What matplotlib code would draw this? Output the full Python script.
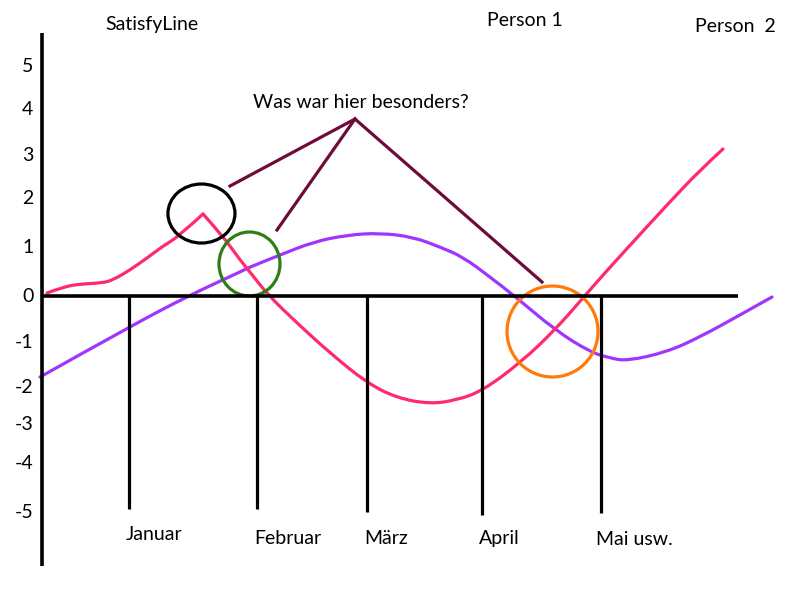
import matplotlib
matplotlib.use("Agg")
import matplotlib.pyplot as plt
from matplotlib.patches import Ellipse, PathPatch
from matplotlib.path import Path

# ---- data (x in month units, y in satisfaction units) ----
months = ["Januar", "Februar", "März", "April", "Mai usw."]
month_x = [1.0, 2.085, 3.017, 3.992, 5.0]
month_line_bottom = [-4.63, -4.63, -4.70, -4.76, -4.72]
month_label_x = [1.208, 2.347, 3.182, 4.140, 5.284]
month_label_y = [-5.174, -5.261, -5.261, -5.261, -5.304]

ytick_labels = ["5", "4", "3", "2", "1", "0", "-1", "-2", "-3", "-4", "-5"]
ytick_pos = [4.98, 4.06, 3.06, 2.11, 1.06, 0.0, -1.02, -1.98, -2.80, -3.65, -4.70]

person1_x = [0.305, 0.441, 0.585, 0.771, 0.864, 1.008, 1.153, 1.288, 1.415, 1.627,
             1.788, 1.941, 2.025, 2.178, 2.424, 2.703, 3.017, 3.271, 3.551, 3.780,
             3.992, 4.314, 4.610, 4.847, 5.017, 5.271, 5.559, 5.839, 6.034]
person1_y = [0.065, 0.196, 0.261, 0.283, 0.348, 0.565, 0.826, 1.087, 1.283, 1.783,
             1.326, 0.783, 0.522, 0.022, -0.587, -1.239, -1.891, -2.217, -2.348, -2.261,
             -2.065, -1.457, -0.739, -0.043, 0.457, 1.174, 1.978, 2.739, 3.196]
person1_corner = 9  # index of the sharp peak

person2_x = [0.246, 1.0, 1.517, 1.941, 2.025, 2.280, 2.559, 2.847, 3.127, 3.407,
             3.636, 3.831, 4.059, 4.288, 4.610, 4.907, 5.076, 5.220, 5.559, 5.839,
             6.178, 6.449]
person2_y = [-1.761, -0.674, 0.022, 0.522, 0.630, 0.891, 1.174, 1.326, 1.370, 1.283,
             1.065, 0.848, 0.413, -0.043, -0.739, -1.217, -1.348, -1.413, -1.217, -0.891,
             -0.413, -0.022]

# annotation pointer lines (apex + three ends)
apex = (2.915, 3.848)
pointer_ends = [(1.856, 2.391), (2.254, 1.435), (4.50, 0.304)]

# highlighted circles: (center x, center y, width, height, colour)
circles = [(1.614, 1.793, 0.568, 1.283, "#000000"),
           (2.021, 0.696, 0.517, 1.391, "#2f7d18"),
           (4.589, -0.772, 0.771, 1.978, "#ff7a0a")]


def smooth_path(xs, ys):
    """Quadratic B-spline path: data points act as control points."""
    pts = list(zip(xs, ys))
    verts = [pts[0]]
    codes = [Path.MOVETO]
    if len(pts) == 2:
        verts.append(pts[1]); codes.append(Path.LINETO)
        return Path(verts, codes)
    for i in range(1, len(pts) - 1):
        ctrl = pts[i]
        if i == len(pts) - 2:
            end = pts[i + 1]
        else:
            end = ((pts[i][0] + pts[i + 1][0]) / 2, (pts[i][1] + pts[i + 1][1]) / 2)
        verts += [ctrl, end]
        codes += [Path.CURVE3, Path.CURVE3]
    return Path(verts, codes)


def draw_curve(ax, xs, ys, color):
    ax.add_patch(PathPatch(smooth_path(xs, ys), fill=False, edgecolor=color, lw=2.3,
                           capstyle="round", joinstyle="round"))


# ---- figure ----
plt.rcParams["font.family"] = ["Lato", "DejaVu Sans"]
fig = plt.figure(figsize=(8, 6), dpi=100)
ax = fig.add_axes([0, 0, 1, 1])
ax.set_xlim(-0.0932, 6.6864)
ax.set_ylim(-6.6087, 6.4348)
ax.axis("off")

lw_axis = 2.6
# axes
ax.plot([0.263, 0.263], [5.717, -5.870], color="black", lw=lw_axis, solid_capstyle="butt")
ax.plot([0.263, 6.161], [0, 0], color="black", lw=lw_axis, solid_capstyle="butt")

# month lines and labels
for mx, mb, lab, lx, ly in zip(month_x, month_line_bottom, months, month_label_x, month_label_y):
    ax.plot([mx, mx], [0, mb], color="black", lw=2.3, solid_capstyle="butt")
    ax.text(lx, ly, lab, ha="center", va="center", fontsize=14)

# y labels
for lab, yp in zip(ytick_labels, ytick_pos):
    ax.text(0.19, yp, lab, ha="right", va="center", fontsize=14)

# curves
draw_curve(ax, person2_x, person2_y, "#a035ff")
k = person1_corner
draw_curve(ax, person1_x[:k + 1], person1_y[:k + 1], "#ff2a6d")
draw_curve(ax, person1_x[k:], person1_y[k:], "#ff2a6d")

# pointer lines
for ex, ey in pointer_ends:
    ax.plot([ex, apex[0]], [ey, apex[1]], color="#6e0b3a", lw=2.3)

# circles
for cx, cy, w, h, c in circles:
    ax.add_patch(Ellipse((cx, cy), w, h, fill=False, edgecolor=c, lw=2.3))

# titles / annotations
ax.text(1.194, 5.913, "SatisfyLine", ha="center", va="center", fontsize=14)
ax.text(4.356, 6.0, "Person 1", ha="center", va="center", fontsize=14)
ax.text(6.14, 5.85, "Person  2", ha="center", va="center", fontsize=14)
ax.text(2.966, 4.20, "Was war hier besonders?", ha="center", va="center", fontsize=14)

fig.savefig("out.png", dpi=100)
